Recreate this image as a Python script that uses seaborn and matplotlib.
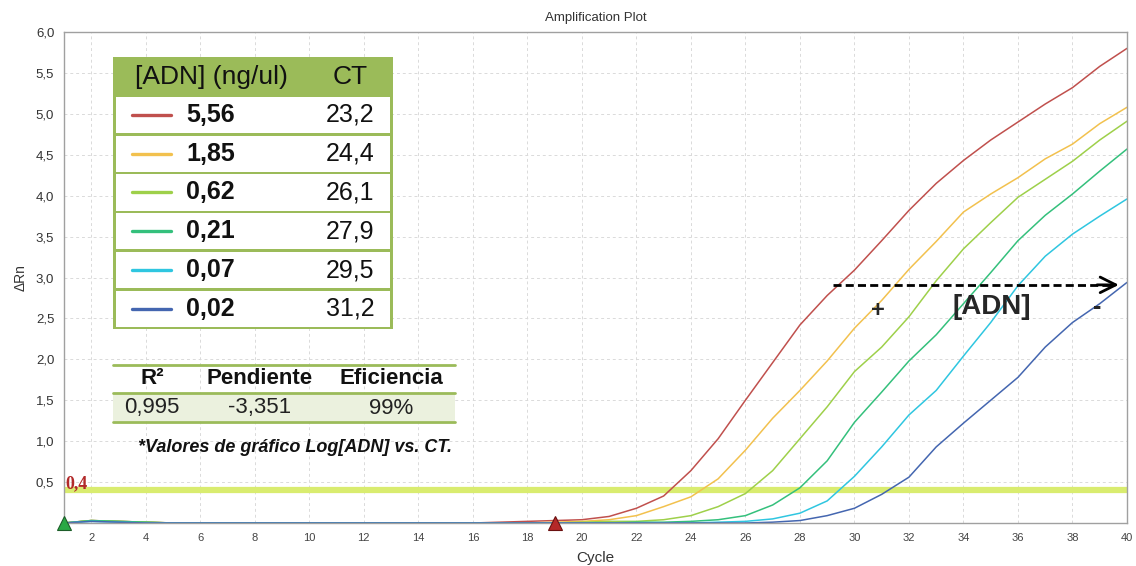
import matplotlib
matplotlib.use("Agg")
import matplotlib.pyplot as plt
from matplotlib.patches import Rectangle
from matplotlib.lines import Line2D
import seaborn as sns
import pandas as pd

# --- qPCR amplification data (ΔRn per cycle) ---
cycles = list(range(1, 41))
rn_5_56 = [0.00, 0.03, 0.02, 0.01, 0.00, 0.00, 0.00, 0.00, 0.00, 0.00,
           0.00, 0.00, 0.00, 0.00, 0.00, 0.00, 0.01, 0.02, 0.03, 0.04,
           0.08, 0.18, 0.33, 0.64, 1.03, 1.50, 1.96, 2.42, 2.78, 3.09,
           3.45, 3.82, 4.15, 4.43, 4.68, 4.90, 5.12, 5.32, 5.58, 5.80]
rn_1_85 = [0.00, 0.03, 0.02, 0.01, 0.00, 0.00, 0.00, 0.00, 0.00, 0.00,
           0.00, 0.00, 0.00, 0.00, 0.00, 0.00, 0.00, 0.00, 0.01, 0.02,
           0.04, 0.09, 0.20, 0.32, 0.54, 0.89, 1.28, 1.62, 1.98, 2.38,
           2.72, 3.10, 3.44, 3.80, 4.02, 4.22, 4.45, 4.63, 4.88, 5.08]
rn_0_62 = [0.00, 0.03, 0.02, 0.01, 0.00, 0.00, 0.00, 0.00, 0.00, 0.00,
           0.00, 0.00, 0.00, 0.00, 0.00, 0.00, 0.00, 0.00, 0.00, 0.01,
           0.02, 0.02, 0.04, 0.09, 0.20, 0.36, 0.64, 1.03, 1.42, 1.85,
           2.15, 2.52, 2.96, 3.35, 3.67, 3.98, 4.20, 4.42, 4.68, 4.91]
rn_0_21 = [0.00, 0.03, 0.02, 0.01, 0.00, 0.00, 0.00, 0.00, 0.00, 0.00,
           0.00, 0.00, 0.00, 0.00, 0.00, 0.00, 0.00, 0.00, 0.00, 0.00,
           0.00, 0.01, 0.01, 0.02, 0.04, 0.09, 0.22, 0.43, 0.76, 1.23,
           1.60, 1.98, 2.30, 2.68, 3.06, 3.45, 3.76, 4.02, 4.30, 4.57]
rn_0_07 = [0.00, 0.02, 0.01, 0.00, 0.00, 0.00, 0.00, 0.00, 0.00, 0.00,
           0.00, 0.00, 0.00, 0.00, 0.00, 0.00, 0.00, 0.00, 0.00, 0.00,
           0.00, 0.00, 0.00, 0.00, 0.01, 0.02, 0.05, 0.12, 0.27, 0.57,
           0.93, 1.32, 1.62, 2.04, 2.45, 2.90, 3.26, 3.53, 3.75, 3.96]
rn_0_02 = [0.00, 0.02, 0.01, 0.00, 0.00, 0.00, 0.00, 0.00, 0.00, 0.00,
           0.00, 0.00, 0.00, 0.00, 0.00, 0.00, 0.00, 0.00, 0.00, 0.00,
           0.00, 0.00, 0.00, 0.00, 0.00, 0.00, 0.01, 0.03, 0.09, 0.18,
           0.35, 0.56, 0.93, 1.22, 1.50, 1.78, 2.15, 2.45, 2.68, 2.94]

concentrations = ["5,56", "1,85", "0,62", "0,21", "0,07", "0,02"]
ct_values = ["23,2", "24,4", "26,1", "27,9", "29,5", "31,2"]
series = [rn_5_56, rn_1_85, rn_0_62, rn_0_21, rn_0_07, rn_0_02]
line_colors = ["#c0504d", "#f2c14e", "#9ed04a", "#34c07c", "#2fc6e0", "#4466b0"]

threshold = 0.4
fit_headers = ["R²", "Pendiente", "Eficiencia"]
fit_values = ["0,995", "-3,351", "99%"]

y_ticks = [0.5, 1.0, 1.5, 2.0, 2.5, 3.0, 3.5, 4.0, 4.5, 5.0, 5.5, 6.0]
x_ticks = list(range(2, 41, 2))

df = pd.DataFrame({
    "Cycle": cycles * len(series),
    "dRn": [v for s in series for v in s],
    "conc": [c for c, s in zip(concentrations, series) for _ in s],
})

sns.set_theme(style="white")
plt.rcParams["font.family"] = ["Liberation Sans", "DejaVu Sans"]

W, H = 1136, 566
fig = plt.figure(figsize=(W / 100, H / 100), dpi=100)
ax = fig.add_axes([64 / W, 1 - 523 / H, (1127 - 64) / W, (523 - 32) / H])

sns.lineplot(data=df, x="Cycle", y="dRn", hue="conc", hue_order=concentrations,
             palette=line_colors, linewidth=1.1, legend=False, ax=ax)

ax.set_xlim(1, 40)
ax.set_ylim(0, 6.0)
ax.set_xticks(x_ticks)
ax.set_yticks(y_ticks)
ax.set_xticklabels([str(t) for t in x_ticks], fontsize=8, color="#444444")
ax.set_yticklabels([f"{t:.1f}".replace(".", ",") for t in y_ticks], fontsize=9.5, color="#333333")
ax.tick_params(axis="both", length=4, width=0.8, color="#888888", pad=3, direction="out")
ax.grid(True, color="#dadada", linestyle=(0, (3, 3)), linewidth=0.7)
for sp in ax.spines.values():
    sp.set_color("#a0a0a0")
    sp.set_linewidth(1.0)

ax.set_title("Amplification Plot", fontsize=9.5, color="#333333", pad=8)
ax.set_xlabel("Cycle", fontsize=11, color="#333333", labelpad=6)
ax.set_ylabel("ΔRn", fontsize=10, color="#333333", labelpad=6)

# threshold line and its value
ax.axhline(threshold, color="#d9ec6f", linewidth=4.5, zorder=1)
ax.text(1.05, threshold + 0.08, "0,4", fontsize=13, fontweight="bold", color="#b22a2a",
        family="Liberation Serif", va="center", ha="left")

# baseline start / end markers
ax.plot([1], [0], marker="^", markersize=10, color="#2aa845", markeredgecolor="#1d5e2a",
        markeredgewidth=0.8, clip_on=False, zorder=5)
ax.plot([19], [0], marker="^", markersize=10, color="#b52828", markeredgecolor="#6a1010",
        markeredgewidth=0.8, clip_on=False, zorder=5)

# concentration direction arrow
ax.plot([29.2, 39.45], [2.91, 2.91], color="black", linewidth=2, linestyle=(0, (2.9, 1.5)), zorder=6)
ax.annotate("", xy=(39.7, 2.91), xytext=(38.9, 2.91),
            arrowprops=dict(arrowstyle="->", color="black", lw=2, mutation_scale=28,
                            shrinkA=0, shrinkB=0), zorder=6)
ax.text(30.85, 2.6, "+", fontsize=17, fontweight="bold", ha="center", va="center")
ax.text(35.05, 2.64, "[ADN]", fontsize=20, fontweight="bold", ha="center", va="center")
ax.text(38.9, 2.64, "-", fontsize=18, fontweight="bold", ha="center", va="center")


def fx(px):
    return px / W


def fy(py):
    return 1 - py / H


green = "#9bbb59"
# concentration / CT table
fig.patches.append(Rectangle((fx(113), fy(329)), fx(393) - fx(113), fy(57) - fy(329),
                             transform=fig.transFigure, facecolor=green, edgecolor="none", zorder=10))
fig.text(fx(211), fy(77), "[ADN] (ng/ul)", fontsize=19, ha="center", va="center", color="#111111", zorder=12)
fig.text(fx(350), fy(77), "CT", fontsize=19, ha="center", va="center", color="#111111", zorder=12)
row_top, row_pitch, row_h = 96.7, 38.8, 36.3
for i, (conc, ct, col) in enumerate(zip(concentrations, ct_values, line_colors)):
    top = row_top + i * row_pitch
    fig.patches.append(Rectangle((fx(116), fy(top + row_h)), fx(390) - fx(116), fy(top) - fy(top + row_h),
                                 transform=fig.transFigure, facecolor="white", edgecolor="none", zorder=11))
    yc = top + row_h / 2
    fig.lines.append(Line2D([fx(132), fx(171)], [fy(yc), fy(yc)], transform=fig.transFigure,
                            color=col, linewidth=2.4, zorder=12))
    fig.text(fx(186), fy(yc), conc, fontsize=18, fontweight="bold", ha="left", va="center",
             color="#111111", zorder=12)
    fig.text(fx(350), fy(yc), ct, fontsize=18, ha="center", va="center", color="#111111", zorder=12)

# regression summary table
fig.patches.append(Rectangle((fx(113), fy(421)), fx(455) - fx(113), fy(393) - fy(421),
                             transform=fig.transFigure, facecolor="#ebf1de", edgecolor="none", zorder=10))
for py in (365, 392.5, 422):
    fig.lines.append(Line2D([fx(113), fx(455)], [fy(py), fy(py)], transform=fig.transFigure,
                            color=green, linewidth=2, zorder=11))
for xc, head, val in zip((152, 260, 391), fit_headers, fit_values):
    fig.text(fx(xc), fy(379), head, fontsize=16, fontweight="bold", ha="center", va="center",
             color="#111111", zorder=12)
    fig.text(fx(xc), fy(408), val, fontsize=16, ha="center", va="center", color="#222222", zorder=12)
fig.text(fx(295), fy(448), "*Valores de gráfico Log[ADN] vs. CT.", fontsize=13, fontweight="bold",
         fontstyle="italic", ha="center", va="center", color="#111111", zorder=12)

fig.savefig("out.png", dpi=100, facecolor="white")
